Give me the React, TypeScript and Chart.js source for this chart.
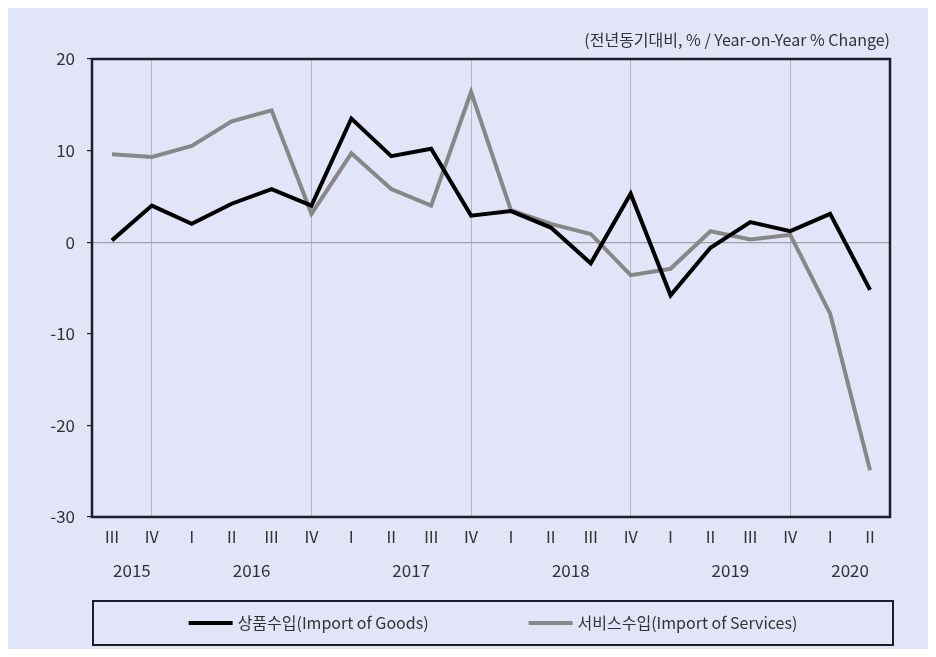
import React, { useEffect, useRef } from "react";
import { Chart, registerables } from "chart.js";

Chart.register(...registerables);

// ---- data ----
const quarters = ["Ⅲ", "Ⅳ", "Ⅰ", "Ⅱ", "Ⅲ", "Ⅳ", "Ⅰ", "Ⅱ", "Ⅲ", "Ⅳ", "Ⅰ", "Ⅱ", "Ⅲ", "Ⅳ", "Ⅰ", "Ⅱ", "Ⅲ", "Ⅳ", "Ⅰ", "Ⅱ"];
const years = ["2015", "2016", "2017", "2018", "2019", "2020"];
const yearPositions = [0.5, 3.5, 7.5, 11.5, 15.5, 18.5];
const goods = [0.2, 4.0, 2.0, 4.2, 5.8, 4.0, 13.5, 9.4, 10.2, 2.9, 3.4, 1.6, -2.3, 5.3, -5.8, -0.6, 2.2, 1.2, 3.1, -5.2];
const services = [9.6, 9.3, 10.5, 13.2, 14.4, 3.1, 9.7, 5.8, 4.0, 16.4, 3.5, 2.0, 0.9, -3.6, -2.9, 1.2, 0.3, 0.8, -7.8, -24.9];
const yTicks = [20, 10, 0, -10, -20, -30];
const seriesNames = ["상품수입(Import of Goods)", "서비스수입(Import of Services)"];
const unitLabel = "(전년동기대비, % / Year-on-Year % Change)";

const FONT = '"Noto Sans CJK KR", "Noto Sans", sans-serif';
const BG = "#e2e4f7";
const TEXT = "#333333";
const FRAME = "#1e1e2a";
const GRID = "#b4b4c4";
const ZERO = "#a0a0ac";
const BLACK = "#000000";
const GRAY = "#878787";

const framePlugin = {
  id: "frame",
  afterDatasetsDraw(chart: any) {
    const { ctx, chartArea: a } = chart;
    ctx.save();
    ctx.strokeStyle = FRAME;
    ctx.lineWidth = 2.5;
    ctx.strokeRect(a.left, a.top, a.right - a.left, a.bottom - a.top);
    ctx.restore();
  },
};

const titlePlugin = {
  id: "unitTitle",
  afterDraw(chart: any) {
    const { ctx, chartArea: a } = chart;
    ctx.save();
    ctx.font = `16px ${FONT}`;
    ctx.fillStyle = TEXT;
    ctx.textAlign = "right";
    ctx.textBaseline = "middle";
    ctx.fillText(unitLabel, a.right, a.top - 19);
    ctx.restore();
  },
};

const legendPlugin = {
  id: "boxLegend",
  afterDraw(chart: any) {
    const { ctx, chartArea: a } = chart;
    const top = a.bottom + 84;
    const bottom = a.bottom + 128;
    const left = a.left + 1;
    const right = a.right + 3;
    ctx.save();
    ctx.strokeStyle = FRAME;
    ctx.lineWidth = 2;
    ctx.strokeRect(left, top, right - left, bottom - top);
    ctx.font = `16px ${FONT}`;
    const sample = 44;
    const gap = 5;
    const spacing = 100;
    const dsets = chart.data.datasets;
    const widths = dsets.map((d: any) => sample + gap + ctx.measureText(d.label).width);
    const total = widths.reduce((s: number, w: number) => s + w, 0) + spacing * (dsets.length - 1);
    let x = (left + right) / 2 - total / 2;
    const cy = (top + bottom) / 2;
    dsets.forEach((d: any, i: number) => {
      ctx.strokeStyle = d.borderColor;
      ctx.lineWidth = 4;
      ctx.beginPath();
      ctx.moveTo(x, cy);
      ctx.lineTo(x + sample, cy);
      ctx.stroke();
      ctx.fillStyle = TEXT;
      ctx.textAlign = "left";
      ctx.textBaseline = "middle";
      ctx.fillText(d.label, x + sample + gap, cy);
      x += widths[i] + spacing;
    });
    ctx.restore();
  },
};

export default function App() {
  const ref = useRef<HTMLCanvasElement | null>(null);

  useEffect(() => {
    if (!ref.current) return;
    const chart = new Chart(ref.current, {
      type: "line",
      data: {
        labels: quarters,
        datasets: [
          {
            label: seriesNames[0],
            data: goods,
            borderColor: BLACK,
            backgroundColor: BLACK,
            borderWidth: 4,
            pointRadius: 0,
            tension: 0,
          },
          {
            label: seriesNames[1],
            data: services,
            borderColor: GRAY,
            backgroundColor: GRAY,
            borderWidth: 4,
            pointRadius: 0,
            tension: 0,
          },
        ],
      },
      options: {
        animation: false,
        responsive: true,
        maintainAspectRatio: false,
        layout: { padding: { top: 51, right: 46, bottom: 61, left: 0 } },
        plugins: {
          legend: { display: false },
          title: { display: false },
          tooltip: { enabled: false },
        },
        scales: {
          x: {
            type: "category",
            offset: true,
            weight: 0,
            border: { display: false },
            grid: {
              display: true,
              drawTicks: false,
              lineWidth: 1,
              color: (ctx: any) => (quarters[ctx.index] === "Ⅳ" ? GRID : "rgba(0,0,0,0)"),
            },
            ticks: {
              autoSkip: false,
              maxRotation: 0,
              padding: 10,
              color: TEXT,
              font: { family: FONT, size: 16 },
            },
            afterFit: (s: any) => {
              s.height = 36;
            },
          },
          x2: {
            type: "linear",
            position: "bottom",
            weight: 1,
            min: -0.5,
            max: quarters.length - 0.5,
            border: { display: false },
            grid: { display: false, drawTicks: false },
            afterBuildTicks: (s: any) => {
              s.ticks = yearPositions.map((v) => ({ value: v }));
            },
            ticks: {
              autoSkip: false,
              maxRotation: 0,
              padding: 7,
              color: TEXT,
              font: { family: FONT, size: 17 },
              callback: (_v: any, i: number) => years[i],
            },
            afterFit: (s: any) => {
              s.height = 35;
            },
          },
          y: {
            min: Math.min(...yTicks),
            max: Math.max(...yTicks),
            border: { display: false },
            afterBuildTicks: (s: any) => {
              s.ticks = yTicks.map((v) => ({ value: v }));
            },
            grid: {
              drawTicks: true,
              tickLength: 5,
              tickColor: FRAME,
              lineWidth: 1.2,
              color: (ctx: any) => (ctx.tick && ctx.tick.value === 0 ? ZERO : "rgba(0,0,0,0)"),
            },
            ticks: {
              padding: 12,
              color: TEXT,
              font: { family: FONT, size: 17 },
            },
            afterFit: (s: any) => {
              s.width = 84;
            },
          },
        },
      },
      plugins: [framePlugin, titlePlugin, legendPlugin],
    } as any);
    return () => chart.destroy();
  }, []);

  return (
    <div
      style={{
        width: 928,
        height: 641,
        marginRight: -8,
        background: BG,
        position: "relative",
      }}
    >
      <canvas ref={ref} style={{ display: "block", width: "100%", height: "100%" }} />
    </div>
  );
}
